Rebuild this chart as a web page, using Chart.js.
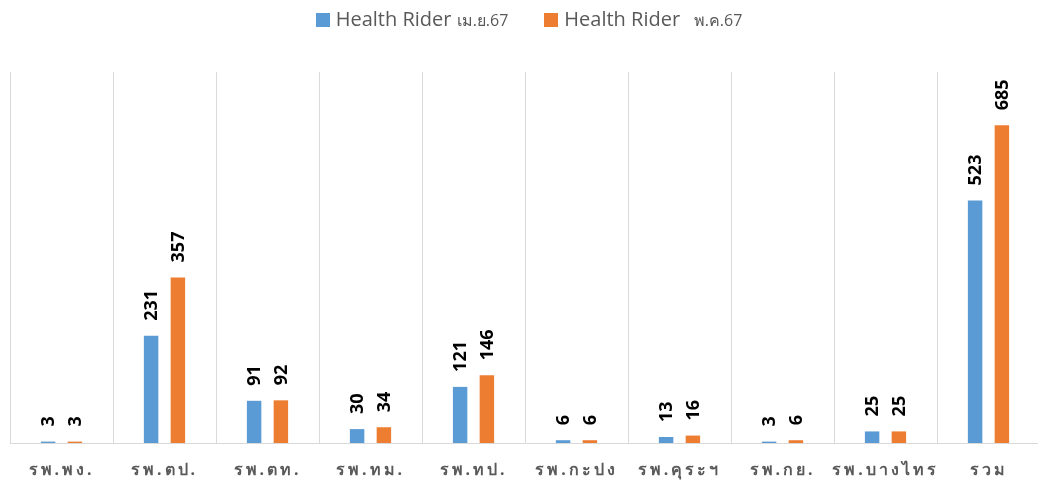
<!DOCTYPE html>
<html>
<head>
<meta charset="utf-8">
<script src="https://cdn.jsdelivr.net/npm/chart.js@4.4.1/dist/chart.umd.min.js"></script>
<style>
  html, body { margin: 0; padding: 0; background: #fff; width: 1038px; height: 482px; overflow: hidden; }
  #wrap { position: relative; width: 1038px; height: 482px; overflow: hidden; }
  #c { position: absolute; left: 0; top: 0; }
  #legend { position: absolute; top: 5px; left: 10px; width: 1038px; text-align: center; font-family: "Open Sans", sans-serif; color: #595959; white-space: nowrap; }
  .item { display: inline-block; margin: 0 18px; vertical-align: middle; }
  .box { display: inline-block; width: 14px; height: 14px; margin-right: 6px; vertical-align: -1px; }
  .big { font-size: 20px; }
  .small { font-size: 16px; }
</style>
</head>
<body>
<div id="wrap">
  <canvas id="c" width="1040" height="482"></canvas>
  <div id="legend"></div>
</div>
<script>
const categories = ["รพ.พง.", "รพ.ตป.", "รพ.ตท.", "รพ.ทม.", "รพ.ทป.", "รพ.กะปง", "รพ.คุระฯ", "รพ.กย.", "รพ.บางไทร", "รวม"];
const seriesNames = ["Health Rider", "Health Rider"];
const seriesSuffix = ["เม.ย.67", " พ.ค.67"];
const aprilValues = [3, 231, 91, 30, 121, 6, 13, 3, 25, 523];
const mayValues = [3, 357, 92, 34, 146, 6, 16, 6, 25, 685];
const seriesColors = ["#5B9BD5", "#ED7D31"];

// HTML legend (mixed font sizes)
const legendEl = document.getElementById('legend');
seriesNames.forEach((n, i) => {
  const it = document.createElement('span');
  it.className = 'item';
  it.innerHTML = '<span class="box" style="background:' + seriesColors[i] + '"></span>' +
    '<span class="big">' + n + ' </span><span class="small">' + seriesSuffix[i].replace(/^ /, '&nbsp;&nbsp;') + '</span>';
  legendEl.appendChild(it);
});

const spacingPlugin = {
  id: 'spacing',
  beforeDraw(chart) { chart.ctx.letterSpacing = '3px'; },
  beforeDatasetsDraw(chart) { chart.ctx.letterSpacing = '0px'; }
};

const valueLabels = {
  id: 'valueLabels',
  afterDatasetsDraw(chart) {
    const ctx = chart.ctx;
    chart.data.datasets.forEach((ds, di) => {
      const meta = chart.getDatasetMeta(di);
      meta.data.forEach((bar, i) => {
        ctx.save();
        ctx.letterSpacing = '0px';
        ctx.translate(bar.x, bar.y - 15);
        ctx.rotate(-Math.PI / 2);
        ctx.font = 'bold 18px "Open Sans", sans-serif';
        ctx.fillStyle = '#000';
        ctx.textAlign = 'left';
        ctx.textBaseline = 'middle';
        ctx.fillText(String(ds.data[i]), 0, 1);
        ctx.restore();
      });
    });
  }
};

new Chart(document.getElementById('c'), {
  type: 'bar',
  data: {
    labels: categories,
    datasets: [
      { label: seriesNames[0] + ' ' + seriesSuffix[0], data: aprilValues, backgroundColor: seriesColors[0], categoryPercentage: 0.52, barPercentage: 0.54 },
      { label: seriesNames[1] + ' ' + seriesSuffix[1], data: mayValues, backgroundColor: seriesColors[1], categoryPercentage: 0.52, barPercentage: 0.54 }
    ]
  },
  options: {
    responsive: false,
    animation: false,
    layout: { padding: { left: 10, right: 0, top: 72, bottom: 0 } },
    plugins: { legend: { display: false }, tooltip: { enabled: false } },
    scales: {
      x: {
        offset: true,
        grid: { display: true, offset: true, color: '#d9d9d9', lineWidth: 1, drawTicks: false },
        border: { display: true, color: '#d9d9d9', width: 1 },
        ticks: { color: '#595959', padding: 18, maxRotation: 0, autoSkip: false, font: { family: '"Noto Sans", sans-serif', size: 16, weight: 'bold' } },
        afterFit(scale) { scale.height = 39; }
      },
      y: {
        display: false,
        min: 0,
        max: 800,
        grid: { display: false }
      }
    }
  },
  plugins: [spacingPlugin, valueLabels]
});
</script>
</body>
</html>
